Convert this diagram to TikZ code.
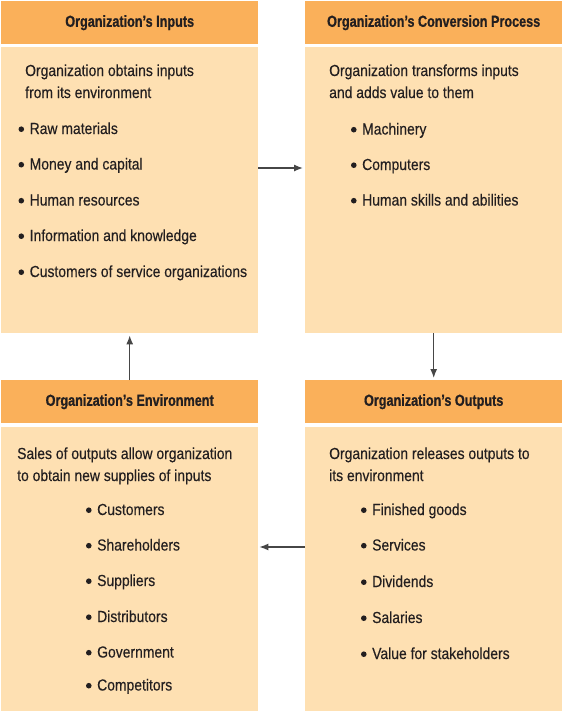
\documentclass[tikz,border=0pt]{standalone}
\usepackage{fontspec}
\setmainfont{Liberation Sans}[FakeStretch=0.87, FakeBold=0.3]
\newfontfamily\headfont{Liberation Sans}[FakeStretch=0.79, FakeBold=0.8]
\usetikzlibrary{arrows.meta}
\definecolor{headfill}{RGB}{250,176,90}
\definecolor{bodyfill}{RGB}{254,224,178}
\definecolor{ink}{RGB}{35,31,32}
\definecolor{arrowline}{RGB}{70,70,70}
% round list bullet followed by its gap
\newcommand\bul{\makebox[11.5pt][l]{\hspace{0.3pt}\tikz[baseline=0pt,x=1pt,y=1pt]\fill (2.8,4.8) circle[radius=2.8];}}
\tikzset{
  headbox/.style={fill=headfill, draw=none, anchor=north west, minimum width=257pt,
    minimum height=43pt, inner sep=0pt, font=\headfont\bfseries\fontsize{16}{16}\selectfont, text=ink},
  bodybox/.style={fill=bodyfill, draw=none, anchor=north west, minimum width=257pt, inner sep=0pt},
  txt/.style={anchor=base west, inner sep=0pt, text=ink, font=\fontsize{16}{16}\selectfont},
  flow/.style={draw=arrowline, line width=1.3pt, -{Latex[length=9pt,width=7pt]}}
}
\begin{document}
\begin{tikzpicture}[x=1pt,y=-1pt]
\useasboundingbox[fill=white] (0,0) rectangle (563,713);

% panels
\node[headbox] (tlhead) at (1,1) {Organization’s Inputs};
\node[bodybox, minimum height=286pt] (tlbody) at (1,47) {};
\node[headbox] (trhead) at (305,1) {Organization’s Conversion Process};
\node[bodybox, minimum height=286pt] (trbody) at (305,47) {};
\node[headbox] (blhead) at (1,380) {Organization’s Environment};
\node[bodybox, minimum height=284pt] (blbody) at (1,427) {};
\node[headbox] (brhead) at (305,380) {Organization’s Outputs};
\node[bodybox, minimum height=284pt] (brbody) at (305,427) {};

% inputs
\node[txt] (tl1) at (25,76) {Organization obtains inputs};
\node[txt] (tl2) at (25,98) {from its environment};
\node[txt] (tla) at (18,134) {\bul Raw materials};
\node[txt] (tlb) at (18,169.5) {\bul Money and capital};
\node[txt] (tlc) at (18,205.5) {\bul Human resources};
\node[txt] (tld) at (18,241) {\bul Information and knowledge};
\node[txt] (tle) at (18,277) {\bul Customers of service organizations};

% conversion
\node[txt] (tr1) at (329,76) {Organization transforms inputs};
\node[txt] (tr2) at (329,98) {and adds value to them};
\node[txt] (tra) at (350.5,134.5) {\bul Machinery};
\node[txt] (trb) at (350.5,170) {\bul Computers};
\node[txt] (trc) at (350.5,205.5) {\bul Human skills and abilities};

% environment
\node[txt] (bl1) at (17,459) {Sales of outputs allow organization};
\node[txt] (bl2) at (17,481) {to obtain new supplies of inputs};
\node[txt] (bla) at (85.5,515) {\bul Customers};
\node[txt] (blb) at (85.5,550.5) {\bul Shareholders};
\node[txt] (blc) at (85.5,586) {\bul Suppliers};
\node[txt] (bld) at (85.5,622) {\bul Distributors};
\node[txt] (ble) at (85.5,657.5) {\bul Government};
\node[txt] (blf) at (85.5,690.5) {\bul Competitors};

% outputs
\node[txt] (br1) at (329,459) {Organization releases outputs to};
\node[txt] (br2) at (329,481) {its environment};
\node[txt] (bra) at (360.5,515) {\bul Finished goods};
\node[txt] (brb) at (360.5,550.5) {\bul Services};
\node[txt] (brc) at (360.5,587) {\bul Dividends};
\node[txt] (brd) at (360.5,623) {\bul Salaries};
\node[txt] (bre) at (360.5,659) {\bul Value for stakeholders};

% flow between panels
\coordinate (toprow) at (0,168);
\coordinate (botrow) at (0,547);
\draw[flow, shorten >=2pt] (tlbody.east |- toprow) -- (trbody.west |- toprow);
\draw[flow, shorten >=2pt] (trbody.south) -- (brhead.north);
\draw[flow, shorten >=1pt] (brbody.west |- botrow) -- (blbody.east |- botrow);
\draw[flow, shorten >=2pt] (blhead.north) -- (tlbody.south);
\end{tikzpicture}
\end{document}
